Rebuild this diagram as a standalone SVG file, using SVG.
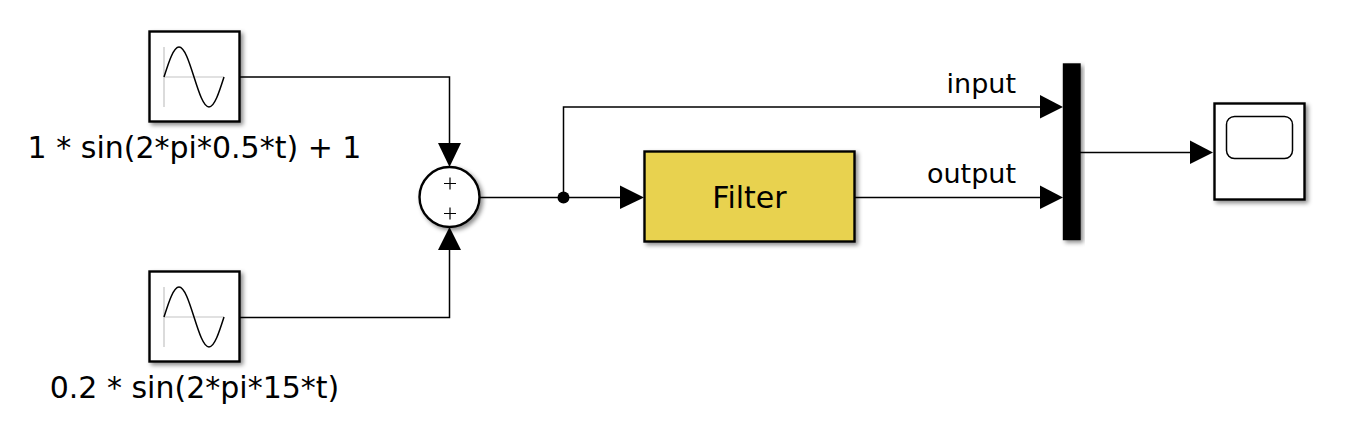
<svg xmlns="http://www.w3.org/2000/svg" width="1345" height="423" viewBox="0 0 1345 423">
<style>
text{font-family:"DejaVu Sans",sans-serif;font-size:30px;fill:#000}
.l{font-size:27px}
.b{fill:#fff;stroke:#000;stroke-width:2.4;filter:url(#s)}
.w{fill:none;stroke:#000;stroke-width:1.5}
.a{fill:#000;stroke:none}
.axis{fill:none;stroke:#c4c4c4;stroke-width:1.2}
.sine{fill:none;stroke:#000;stroke-width:1.5}
</style>
<defs>
<filter id="s" x="-20%" y="-20%" width="150%" height="150%"><feDropShadow dx="2.5" dy="2.5" stdDeviation="2" flood-color="#000" flood-opacity="0.45"/></filter>
<path id="sin" d="M0 30C4.890 14.630 9.570 0 15 0C20.430 0 25.110 14.630 30 30C34.890 45.370 39.570 60 45 60C50.430 60 55.110 45.370 60 30"/>
</defs>
<rect width="1345" height="423" fill="#fff"/>
<g id="connectors">
<path class="w" d="M240 77H449.500V143"/>
<path class="w" d="M240 317.500H449.500V250"/>
<path class="w" d="M480 197.500H621"/>
<path class="w" d="M563.500 197.500V107H1041"/>
<path class="w" d="M855 197.500H1041"/>
<path class="w" d="M1080 152.500H1191"/>
<circle class="a" cx="563.500" cy="197.500" r="6"/>
<path class="a" d="M438 143H461L449.500 167Z"/>
<path class="a" d="M438 250H461L449.500 227Z"/>
<path class="a" d="M620 185.500V209L644 197.500Z"/>
<path class="a" d="M1040 95V118.500L1063 107Z"/>
<path class="a" d="M1040 185.500V209L1063 197.500Z"/>
<path class="a" d="M1190 140.500V164L1213 152.500Z"/>
<text class="l" x="1016" y="93" text-anchor="end">input</text>
<text class="l" x="1016" y="183" text-anchor="end">output</text>
</g>
<g id="sine1">
<rect class="b" x="149.500" y="31.500" width="90" height="90"/>
<path class="axis" d="M164 47V107M164 77H224"/>
<use href="#sin" class="sine" x="164" y="47"/>
<text x="194.500" y="158" text-anchor="middle">1 * sin(2*pi*0.5*t) + 1</text>
</g>
<g id="sine2">
<rect class="b" x="149.500" y="271.500" width="90" height="90"/>
<path class="axis" d="M164 287V347M164 317H224"/>
<use href="#sin" class="sine" x="164" y="287"/>
<text x="194.500" y="398" text-anchor="middle">0.2 * sin(2*pi*15*t)</text>
</g>
<g id="sum">
<circle class="b" cx="449.500" cy="197" r="30"/>
<path class="w" style="stroke-width:1.2" d="M444 183.500H456M450 177.500V189.500M444 213.500H456M450 207.500V219.500"/>
</g>
<g id="filter">
<rect class="b" x="644.500" y="151.500" width="210" height="90" style="fill:#e8d24f"/>
<text x="749.500" y="208" text-anchor="middle">Filter</text>
</g>
<g id="mux">
<rect class="b" x="1064" y="64.500" width="15.500" height="174.500" style="fill:#000"/>
</g>
<g id="scope">
<rect class="b" x="1214.500" y="103.500" width="90" height="96"/>
<rect x="1226.500" y="116.500" width="66" height="42" rx="8" fill="none" stroke="#000" stroke-width="1.500"/>
</g>
</svg>
